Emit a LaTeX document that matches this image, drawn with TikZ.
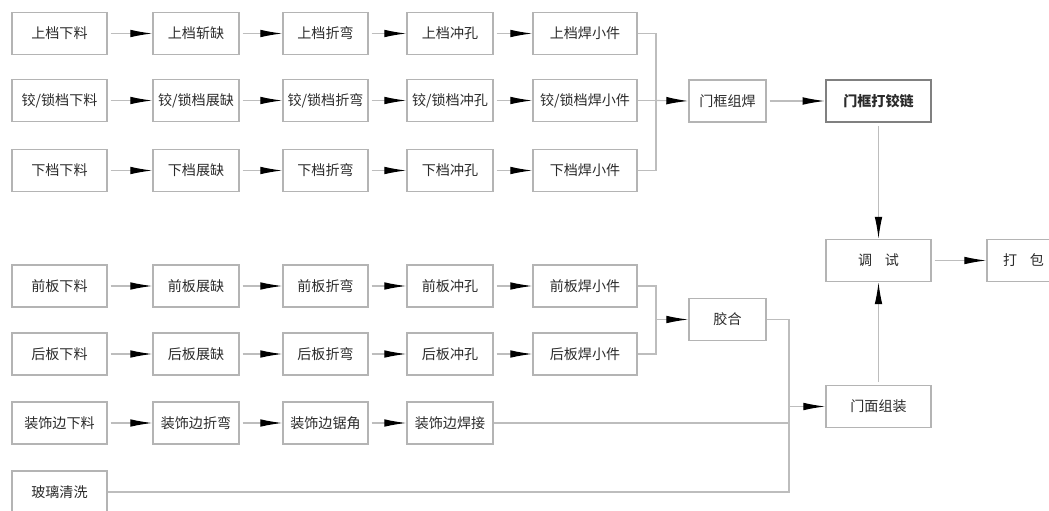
\documentclass[tikz,border=0pt]{standalone}
\usepackage{fontspec}
\setmainfont{Noto Sans CJK SC}
\usetikzlibrary{arrows.meta}
\definecolor{boxline}{HTML}{B4B4B4}
\definecolor{wireline}{HTML}{BDBDBD}
\definecolor{txt}{HTML}{2A2A2A}
\begin{document}
\begin{tikzpicture}[x=0.025cm,y=-0.025cm,
		box/.style={draw=boxline,line width=1pt,minimum height=1.05cm,inner sep=0pt,text=txt,font=\fontsize{10}{12}\selectfont},
		flow/.style={draw=wireline,line width=0.8pt,shorten <=2pt,-{Latex[length=5.5mm,width=1.9mm,color=black]}},
		wire/.style={draw=wireline,line width=0.8pt}]
		\useasboundingbox (0,0) rectangle (1049,511);
		\clip (0,0) rectangle (1049,511);
		% upper rail
		\node [box,minimum width=2.375cm] (u1) at (59.5,33.5) {上档下料};
		\node [box,minimum width=2.15cm] (u2) at (196,33.5) {上档斩缺};
		\node [box,minimum width=2.125cm] (u3) at (325.5,33.5) {上档折弯};
		\node [box,minimum width=2.15cm] (u4) at (450,33.5) {上档冲孔};
		\node [box,minimum width=2.6cm] (u5) at (585,33.5) {上档焊小件};
		% hinge / lock rail
		\node [box,minimum width=2.375cm] (h1) at (59.5,100.5) {铰/锁档下料};
		\node [box,minimum width=2.15cm] (h2) at (196,100.5) {铰/锁档展缺};
		\node [box,minimum width=2.125cm] (h3) at (325.5,100.5) {铰/锁档折弯};
		\node [box,minimum width=2.15cm] (h4) at (450,100.5) {铰/锁档冲孔};
		\node [box,minimum width=2.6cm] (h5) at (585,100.5) {铰/锁档焊小件};
		% lower rail
		\node [box,minimum width=2.375cm] (d1) at (59.5,170.5) {下档下料};
		\node [box,minimum width=2.15cm] (d2) at (196,170.5) {下档展缺};
		\node [box,minimum width=2.125cm] (d3) at (325.5,170.5) {下档折弯};
		\node [box,minimum width=2.15cm] (d4) at (450,170.5) {下档冲孔};
		\node [box,minimum width=2.6cm] (d5) at (585,170.5) {下档焊小件};
		% frame
		\node [box,minimum width=1.925cm] (frameweld) at (727.5,101) {门框组焊};
		\node [box,minimum width=2.625cm,draw=gray,line width=1.8pt,font=\fontsize{10}{12}\selectfont\bfseries] (framehinge) at (878.5,101) {门框打铰链};
		\node [box,minimum width=2.625cm] (tune) at (878.5,260.5) {调\hspace{0.9em}试};
		\node [box,minimum width=1.825cm] (pack) at (1023.5,260.5) {打\hspace{0.9em}包};
		% front panel
		\node [box,minimum width=2.375cm] (f1) at (59.5,286) {前板下料};
		\node [box,minimum width=2.15cm] (f2) at (196,286) {前板展缺};
		\node [box,minimum width=2.125cm] (f3) at (325.5,286) {前板折弯};
		\node [box,minimum width=2.15cm] (f4) at (450,286) {前板冲孔};
		\node [box,minimum width=2.6cm] (f5) at (585,286) {前板焊小件};
		% back panel
		\node [box,minimum width=2.375cm] (b1) at (59.5,354) {后板下料};
		\node [box,minimum width=2.15cm] (b2) at (196,354) {后板展缺};
		\node [box,minimum width=2.125cm] (b3) at (325.5,354) {后板折弯};
		\node [box,minimum width=2.15cm] (b4) at (450,354) {后板冲孔};
		\node [box,minimum width=2.6cm] (b5) at (585,354) {后板焊小件};
		\node [box,minimum width=1.925cm] (glue) at (727.5,319.5) {胶合};
		% trim
		\node [box,minimum width=2.375cm] (t1) at (59.5,423) {装饰边下料};
		\node [box,minimum width=2.15cm] (t2) at (196,423) {装饰边折弯};
		\node [box,minimum width=2.125cm] (t3) at (325.5,423) {装饰边锯角};
		\node [box,minimum width=2.15cm] (t4) at (450,423) {装饰边焊接};
		\node [box,minimum width=2.375cm] (glass) at (59.5,492) {玻璃清洗};
		\node [box,minimum width=2.625cm] (doorface) at (878.5,406.5) {门面组装};
		% junctions
		\coordinate (j1) at (656,100.5);
		\coordinate (j2) at (656,319.5);
		\coordinate (j3) at (789,406.5);
		% rows
		\draw [flow] (u1) -- (u2);
		\draw [flow] (u2) -- (u3);
		\draw [flow] (u3) -- (u4);
		\draw [flow] (u4) -- (u5);
		\draw [flow] (h1) -- (h2);
		\draw [flow] (h2) -- (h3);
		\draw [flow] (h3) -- (h4);
		\draw [flow] (h4) -- (h5);
		\draw [flow] (d1) -- (d2);
		\draw [flow] (d2) -- (d3);
		\draw [flow] (d3) -- (d4);
		\draw [flow] (d4) -- (d5);
		\draw [flow] (f1) -- (f2);
		\draw [flow] (f2) -- (f3);
		\draw [flow] (f3) -- (f4);
		\draw [flow] (f4) -- (f5);
		\draw [flow] (b1) -- (b2);
		\draw [flow] (b2) -- (b3);
		\draw [flow] (b3) -- (b4);
		\draw [flow] (b4) -- (b5);
		\draw [flow] (t1) -- (t2);
		\draw [flow] (t2) -- (t3);
		\draw [flow] (t3) -- (t4);
		% merging
		\draw [wire] (u5.east) -| (j1) |- (d5.east);
		\draw [wire] (h5.east) -- (j1);
		\draw [flow,shorten <=0pt] (j1) -- (frameweld.west);
		\draw [flow] (frameweld) -- (framehinge);
		\draw [wire] (f5.east) -| (j2) |- (b5.east);
		\draw [flow,shorten <=0pt] (j2) -- (glue.west);
		\draw [wire] (glue.east) -| (j3 |- glass.east) -- (glass.east);
		\draw [wire] (t4.east) -- (j3 |- t4.east);
		\draw [flow,shorten <=0pt] (j3) -- (doorface.west);
		\draw [flow] (framehinge) -- (tune);
		\draw [flow] (doorface) -- (tune);
		\draw [flow] (tune) -- (pack);
	\end{tikzpicture}
\end{document}
